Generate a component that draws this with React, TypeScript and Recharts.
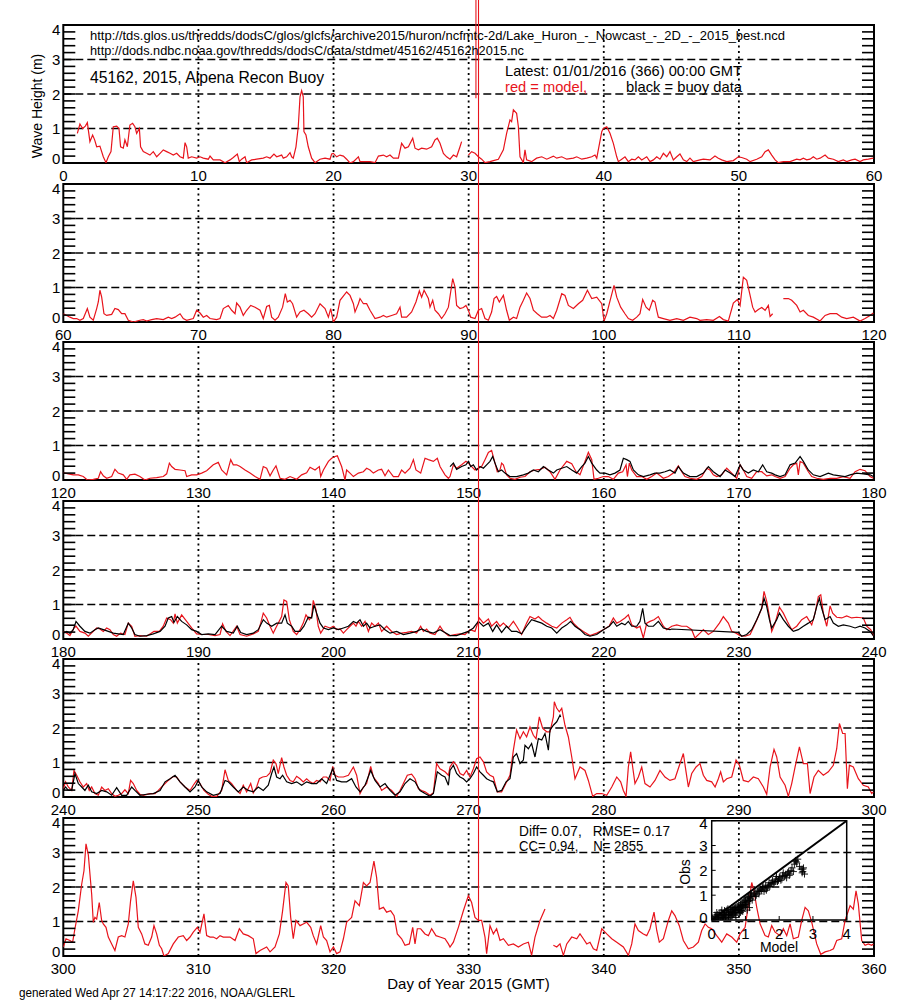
import React from "react";
import {
  ComposedChart,
  Line,
  XAxis,
  YAxis,
  ReferenceLine,
  ReferenceArea,
  ScatterChart,
  Scatter,
} from "recharts";

type Pt = [number, number | null];

// ---------------- model (red) wave height, m ----------------
const model_000_060: Pt[] = [
  [1.04, 0.86], [1.23, 1.13], [1.43, 1.0], [1.63, 1.07], [1.78, 1.17], [1.97, 0.62], [2.17, 0.81], [2.32, 0.67],
  [2.47, 0.47], [2.71, 0.49], [2.96, 0.18], [3.16, 0.01], [3.33, 0.18], [3.53, 0.33], [3.7, 1.05], [3.95, 1.07],
  [4.12, 1.0], [4.24, 0.47], [4.44, 0.43], [4.56, 0.67], [4.74, 0.47], [4.93, 1.1], [5.13, 1.15], [5.3, 1.05],
  [5.43, 0.86], [5.63, 1.0], [5.72, 0.47], [5.92, 0.33], [6.17, 0.28], [6.41, 0.23], [6.66, 0.33], [6.91, 0.18],
  [7.16, 0.28], [7.4, 0.38], [7.65, 0.33], [7.9, 0.28], [8.14, 0.23], [8.39, 0.28], [8.64, 0.18], [8.88, 0.14],
  [9.01, 0.59], [9.13, 0.47], [9.25, 0.14], [9.5, 0.18], [9.87, 0.14], [10.12, 0.18], [10.36, 0.14], [10.73, 0.11],
  [10.86, 0.2], [11.1, 0.09], [11.6, 0.09], [11.97, 0.01], [12.34, 0.09], [12.58, 0.16], [12.88, 0.26], [13.03, 0.04],
  [13.2, 0.11], [13.45, 0.18], [13.57, 0.01], [13.94, 0.09], [14.31, 0.11], [14.8, 0.14], [15.05, 0.18], [15.3, 0.14],
  [15.59, 0.26], [15.79, 0.18], [16.16, 0.23], [16.28, 0.14], [16.53, 0.18], [16.78, 0.3], [16.9, 0.18], [17.02, 0.14],
  [17.22, 0.47], [17.39, 1.05], [17.52, 1.92], [17.64, 2.1], [17.76, 1.92], [17.81, 0.91], [17.96, 0.81], [18.13, 0.47],
  [18.38, 0.14], [18.63, 0.01], [19.0, 0.11], [19.37, 0.14], [19.74, 0.11], [19.86, 0.26], [19.99, 0.28], [20.23, 0.18],
  [20.48, 0.23], [20.73, 0.2], [20.97, 0.11], [21.22, 0.0], [21.47, 0.04], [21.84, 0.18], [21.96, 0.04], [22.33, 0.04],
  [22.7, 0.04], [23.07, 0.01], [23.32, 0.2], [23.69, 0.23], [23.93, 0.18], [24.18, 0.23], [24.43, 0.14], [24.8, 0.14],
  [25.04, 0.57], [25.29, 0.43], [25.54, 0.47], [25.86, 0.72], [26.03, 0.43], [26.28, 0.38], [26.52, 0.43], [26.89, 0.4],
  [27.26, 0.47], [27.51, 0.67], [27.68, 0.72], [27.88, 0.57], [28.13, 0.28], [28.37, 0.18], [28.62, 0.11], [28.87, 0.23],
  [29.11, 0.18], [29.36, 0.47], [29.48, 0.62], [29.6, null], [29.98, 0.23], [30.22, 0.33], [30.47, 0.28], [30.72, 0.18],
  [30.96, 0.11], [31.21, 0.01], [31.58, 0.04], [31.83, 0.07], [32.2, 0.11], [32.57, 0.38], [32.81, 0.86], [33.06, 1.25],
  [33.18, 1.2], [33.31, 1.54], [33.55, 1.44], [33.68, 1.05], [33.8, 0.18], [34.05, 0.01], [34.17, 0.38], [34.29, 0.09],
  [34.66, 0.04], [35.03, 0.14], [35.41, 0.18], [35.78, 0.11], [36.27, 0.2], [36.52, 0.14], [36.89, 0.18], [37.26, 0.11],
  [37.75, 0.14], [38.0, 0.18], [38.37, 0.11], [38.74, 0.14], [39.11, 0.18], [39.35, 0.23], [39.48, 0.14], [39.85, 0.91],
  [39.97, 1.0], [40.22, 1.05], [40.46, 0.86], [40.71, 0.57], [40.96, 0.18], [41.08, 0.04], [41.33, 0.11], [41.57, 0.18],
  [41.82, 0.04], [42.07, 0.11], [42.31, 0.09], [42.56, 0.18], [42.81, 0.09], [43.18, 0.18], [43.42, 0.04], [43.67, 0.09],
  [43.92, 0.18], [44.16, 0.11], [44.41, 0.28], [44.66, 0.18], [44.9, 0.33], [45.15, 0.09], [45.4, 0.18], [45.64, 0.26],
  [45.89, 0.09], [46.14, 0.04], [46.38, 0.14], [46.63, 0.04], [47.12, 0.09], [47.37, 0.11], [47.86, 0.09], [48.23, 0.2],
  [48.48, 0.14], [48.73, 0.09], [49.1, 0.04], [49.59, 0.07], [49.96, 0.18], [50.21, 0.16], [50.58, 0.11], [50.83, 0.04],
  [51.32, 0.11], [51.69, 0.18], [51.94, 0.33], [52.18, 0.38], [52.43, 0.23], [52.68, 0.09], [52.92, 0.01], [53.29, 0.04],
  [53.79, 0.04], [54.28, 0.11], [54.53, 0.09], [54.77, 0.14], [55.02, 0.09], [55.27, 0.11], [55.51, 0.18], [55.76, 0.11],
  [56.01, 0.14], [56.38, 0.23], [56.62, 0.14], [56.99, 0.11], [57.36, 0.04], [57.73, 0.09], [57.98, 0.04], [58.35, 0.09],
  [58.6, 0.11], [58.97, 0.04], [59.21, 0.09], [59.58, 0.11], [59.95, 0.14],
];

const model_060_120: Pt[] = [
  [60.0, 0.24], [60.25, 0.19], [60.49, 0.14], [60.74, 0.1], [60.99, 0.1], [61.23, 0.05], [61.48, 0.1], [61.78, 0.39],
  [61.97, 0.14], [62.22, 0.05], [62.47, 0.39], [62.59, 0.58], [62.71, 0.92], [62.84, 0.72], [63.01, 0.24], [63.21, 0.19],
  [63.58, 0.22], [63.82, 0.39], [64.07, 0.36], [64.32, 0.24], [64.56, 0.24], [64.81, 0.05], [65.18, 0.0], [65.67, 0.05],
  [65.92, 0.07], [66.17, 0.03], [66.54, 0.07], [66.91, 0.1], [67.4, 0.07], [67.77, 0.14], [68.02, 0.1], [68.27, 0.14],
  [68.64, 0.24], [68.88, 0.1], [69.13, 0.05], [69.62, 0.1], [69.87, 0.34], [70.12, 0.26], [70.36, 0.14], [70.61, 0.19],
  [70.86, 0.1], [71.35, 0.07], [71.6, 0.1], [71.84, 0.39], [72.21, 0.48], [72.46, 0.34], [72.71, 0.24], [72.83, 0.55],
  [73.08, 0.43], [73.32, 0.19], [73.57, 0.34], [73.87, 0.48], [74.19, 0.43], [74.56, 0.34], [74.8, 0.1], [75.05, 0.45],
  [75.25, 0.48], [75.42, 0.14], [75.67, 0.05], [75.91, 0.14], [76.23, 0.43], [76.43, 0.82], [76.58, 0.58], [76.78, 0.63],
  [76.97, 0.53], [77.27, 0.14], [77.52, 0.29], [77.81, 0.34], [78.13, 0.24], [78.38, 0.14], [78.63, 0.24], [79.0, 0.53],
  [79.37, 0.39], [79.62, 0.14], [79.79, 0.39], [79.99, 0.0], [80.23, 0.14], [80.48, 0.63], [80.97, 0.87], [81.22, 0.77],
  [81.47, 0.53], [81.59, 0.29], [81.84, 0.53], [81.96, 0.68], [82.21, 0.53], [82.45, 0.53], [82.7, 0.34], [83.07, 0.1],
  [83.44, 0.14], [83.69, 0.19], [83.93, 0.14], [84.3, 0.19], [84.67, 0.24], [84.92, 0.43], [85.04, 0.14], [85.41, 0.14],
  [85.78, 0.29], [86.1, 0.58], [86.35, 0.9], [86.52, 0.72], [86.7, 0.92], [87.02, 0.68], [87.14, 0.43], [87.34, 0.63],
  [87.51, 0.34], [87.76, 0.24], [88.0, 0.1], [88.25, 0.24], [88.5, 0.43], [88.82, 1.26], [88.99, 1.01], [89.11, 0.48],
  [89.36, 0.39], [89.61, 0.42], [89.8, 0.48], [89.98, 0.34], [90.15, 0.14], [90.47, 0.1], [90.72, 0.34], [90.96, 0.39],
  [91.21, 0.1], [91.46, 0.05], [91.7, 0.29], [91.88, 0.68], [92.07, 0.74], [92.27, 0.58], [92.57, 0.77], [92.81, 0.34],
  [93.01, 0.05], [93.31, 0.14], [93.55, 0.1], [93.8, 0.43], [94.05, 0.63], [94.29, 0.84], [94.54, 0.68], [94.79, 0.34],
  [95.08, 0.24], [95.4, 0.14], [95.78, 0.14], [96.02, 0.19], [96.27, 0.1], [96.52, 0.34], [96.89, 0.82], [97.13, 0.77],
  [97.38, 0.48], [97.75, 0.39], [98.12, 0.53], [98.44, 0.63], [98.79, 0.92], [99.11, 0.68], [99.48, 0.72], [99.85, 0.53],
  [100.02, 0.03], [100.22, 0.24], [100.41, 0.53], [100.76, 1.06], [100.96, 0.72], [101.25, 0.43], [101.57, 0.24], [101.82, 0.1],
  [102.14, 0.05], [102.44, 0.14], [102.68, 0.24], [102.88, 0.65], [103.13, 0.43], [103.37, 0.34], [103.62, 0.63], [103.79, 0.58],
  [103.92, 0.34], [104.04, 0.14], [104.41, 0.1], [104.9, 0.05], [105.4, 0.1], [105.89, 0.05], [106.38, 0.14], [106.88, 0.1],
  [107.12, 0.05], [107.62, 0.07], [108.11, 0.05], [108.56, 0.16], [108.85, 0.07], [109.22, 0.03], [109.59, 0.55], [109.89, 0.65],
  [110.09, 0.48], [110.33, 1.3], [110.58, 1.21], [110.83, 0.77], [111.02, 0.43], [111.2, 0.29], [111.44, 0.36], [111.69, 0.42],
  [111.94, 0.34], [112.18, 0.48], [112.31, 0.16], [112.5, 0.24], [112.9, null], [113.29, 0.68], [113.66, 0.68], [113.91, 0.63],
  [114.28, 0.48], [114.53, 0.29], [114.77, 0.34], [115.14, 0.19], [115.51, 0.14], [116.01, 0.03], [116.38, 0.19], [116.75, 0.24],
  [117.24, 0.24], [117.61, 0.14], [117.98, 0.1], [118.47, 0.14], [118.97, 0.03], [119.34, 0.1], [119.71, 0.19], [119.95, 0.26],
];

const model_120_180: Pt[] = [
  [120.0, 0.21], [120.37, 0.18], [120.74, 0.15], [121.11, 0.15], [121.48, 0.1], [121.78, 0.0], [122.22, 0.02], [122.59, 0.05],
  [122.76, 0.24], [122.96, 0.12], [123.21, 0.05], [123.58, 0.1], [123.82, 0.31], [124.07, 0.2], [124.44, 0.15], [124.69, 0.02],
  [124.93, 0.15], [125.3, 0.17], [125.67, 0.1], [126.04, 0.0], [126.41, 0.05], [126.91, 0.07], [127.4, 0.1], [127.65, 0.18],
  [127.85, 0.49], [128.02, 0.39], [128.27, 0.31], [128.64, 0.29], [129.01, 0.27], [129.13, 0.1], [129.5, 0.15], [129.87, 0.15],
  [130.24, 0.2], [130.61, 0.27], [131.1, 0.44], [131.47, 0.51], [131.72, 0.29], [132.09, 0.15], [132.39, 0.59], [132.58, 0.44],
  [132.83, 0.44], [133.08, 0.39], [133.45, 0.29], [133.82, 0.2], [134.19, 0.1], [134.56, 0.02], [134.8, 0.39], [135.05, 0.34],
  [135.3, 0.12], [135.54, 0.29], [135.74, 0.41], [136.04, 0.05], [136.41, 0.02], [136.78, 0.1], [137.27, 0.02], [137.64, 0.15],
  [138.01, 0.21], [138.26, 0.37], [138.63, 0.29], [138.95, 0.39], [139.05, 0.1], [139.25, 0.29], [139.62, 0.54], [139.86, 0.63],
  [140.11, 0.68], [140.28, 0.7], [140.6, 0.39], [140.85, 0.0], [140.97, 0.29], [141.22, 0.2], [141.47, 0.1], [141.84, 0.2],
  [142.21, 0.24], [142.45, 0.34], [142.7, 0.29], [142.95, 0.2], [143.32, 0.29], [143.56, 0.31], [143.81, 0.12], [144.06, 0.29],
  [144.43, 0.1], [144.8, 0.1], [145.04, 0.29], [145.29, 0.2], [145.66, 0.34], [145.91, 0.59], [146.1, 0.29], [146.45, 0.2],
  [146.77, 0.63], [147.02, 0.59], [147.39, 0.54], [147.68, 0.63], [147.88, 0.39], [148.25, 0.15], [148.5, 0.05], [148.62, 0.1],
  [148.87, 0.44], [149.11, 0.34], [149.48, 0.44], [149.8, 0.54], [149.98, 0.49], [150.22, 0.39], [150.47, 0.29], [150.72, 0.34],
  [150.96, 0.39], [151.21, 0.59], [151.46, 0.8], [151.7, 0.86], [151.95, 0.49], [152.12, 0.24], [152.32, 0.29], [152.44, 0.49],
  [152.57, 0.44], [152.81, 0.15], [153.06, 0.05], [153.43, 0.02], [153.8, 0.08], [154.17, 0.1], [154.54, 0.24], [154.91, 0.29],
  [155.28, 0.31], [155.65, 0.37], [156.02, 0.24], [156.39, 0.02], [156.76, 0.29], [157.26, 0.54], [157.63, 0.47], [157.95, 0.24],
  [158.24, 0.15], [158.61, 0.54], [158.86, 0.8], [159.11, 0.59], [159.28, 0.02], [159.6, 0.05], [159.97, 0.1], [160.34, 0.1],
  [160.71, 0.02], [161.08, 0.2], [161.4, 0.24], [161.65, 0.44], [161.75, 0.1], [161.89, 0.49], [162.07, 0.29], [162.44, 0.1],
  [162.81, 0.1], [163.18, 0.02], [163.55, 0.1], [163.92, 0.2], [164.41, 0.05], [164.78, 0.1], [165.15, 0.2], [165.52, 0.41],
  [165.77, 0.24], [166.01, 0.1], [166.38, 0.05], [166.88, 0.02], [167.25, 0.1], [167.62, 0.34], [167.86, 0.29], [168.11, 0.15],
  [168.36, 0.1], [168.73, 0.15], [169.1, 0.34], [169.47, 0.2], [169.84, 0.05], [170.09, 0.44], [170.33, 0.29], [170.58, 0.1],
  [170.95, 0.05], [171.32, 0.24], [171.69, 0.24], [172.06, 0.12], [172.43, 0.15], [172.68, 0.1], [173.05, 0.05], [173.42, 0.1],
  [173.79, 0.34], [174.03, 0.44], [174.28, 0.49], [174.4, 0.15], [174.53, 0.54], [174.77, 0.49], [175.14, 0.24], [175.39, 0.1],
  [175.76, 0.05], [176.25, 0.02], [176.75, 0.05], [177.24, 0.05], [177.73, 0.1], [178.23, 0.05], [178.6, 0.24], [178.97, 0.31],
  [179.34, 0.27], [179.71, 0.1], [179.95, 0.05],
];

const model_180_240: Pt[] = [
  [180.0, 0.22], [180.25, 0.17], [180.49, 0.1], [180.79, 0.32], [180.94, 0.37], [181.23, 0.22], [181.6, 0.17], [181.85, 0.08],
  [182.22, 0.22], [182.47, 0.32], [182.71, 0.29], [182.96, 0.22], [183.21, 0.32], [183.45, 0.27], [183.7, 0.13], [183.95, 0.08],
  [184.24, 0.17], [184.56, 0.13], [184.81, 0.46], [185.06, 0.37], [185.3, 0.08], [185.67, 0.1], [186.17, 0.08], [186.71, 0.22],
  [187.11, 0.22], [187.4, 0.37], [187.65, 0.61], [187.94, 0.56], [188.14, 0.46], [188.27, 0.73], [188.44, 0.46], [188.76, 0.7],
  [189.13, 0.51], [189.5, 0.32], [189.87, 0.15], [190.24, 0.13], [190.73, 0.13], [191.23, 0.1], [191.6, 0.13], [191.79, 0.44],
  [192.04, 0.22], [192.34, 0.1], [192.83, 0.37], [193.08, 0.13], [193.57, 0.08], [194.06, 0.15], [194.43, 0.22], [194.61, 0.46],
  [194.8, 0.75], [195.05, 0.61], [195.3, 0.37], [195.54, 0.17], [195.79, 0.37], [196.16, 0.65], [196.33, 1.13], [196.53, 1.09],
  [196.73, 0.56], [197.02, 0.22], [197.27, 0.13], [197.52, 0.27], [197.76, 0.46], [197.96, 0.7], [198.21, 0.56], [198.38, 0.65],
  [198.5, 1.12], [198.7, 0.85], [198.87, 0.37], [199.05, 0.17], [199.37, 0.37], [199.74, 0.32], [199.99, 0.37], [200.23, 0.27],
  [200.48, 0.29], [200.73, 0.17], [200.97, 0.27], [201.22, 0.37], [201.47, 0.46], [201.66, 0.37], [201.84, 0.51], [202.08, 0.37],
  [202.33, 0.51], [202.58, 0.22], [202.82, 0.46], [203.07, 0.37], [203.32, 0.46], [203.56, 0.22], [203.93, 0.37], [204.3, 0.22],
  [204.67, 0.13], [205.04, 0.17], [205.41, 0.19], [205.78, 0.22], [206.15, 0.17], [206.45, 0.37], [206.65, 0.22], [206.89, 0.29],
  [207.14, 0.17], [207.51, 0.13], [207.88, 0.37], [208.13, 0.22], [208.5, 0.1], [208.62, 0.1], [208.99, 0.13], [209.36, 0.15],
  [209.73, 0.13], [210.1, 0.27], [210.47, 0.22], [210.79, 0.61], [211.09, 0.46], [211.46, 0.58], [211.7, 0.37], [212.07, 0.51],
  [212.32, 0.37], [212.57, 0.46], [212.94, 0.32], [213.31, 0.51], [213.55, 0.37], [213.92, 0.13], [214.29, 0.46], [214.54, 0.65],
  [214.91, 0.58], [215.16, 0.65], [215.41, 0.56], [215.78, 0.46], [216.15, 0.37], [216.52, 0.32], [216.89, 0.46], [217.26, 0.56],
  [217.5, 0.63], [217.75, 0.46], [218.12, 0.32], [218.49, 0.22], [218.98, 0.1], [219.48, 0.17], [219.97, 0.27], [220.41, 0.38],
  [220.71, 0.61], [220.96, 0.46], [221.2, 0.51], [221.57, 0.61], [221.82, 0.7], [222.07, 0.41], [222.44, 0.32], [222.68, 0.37],
  [222.93, 0.03], [223.18, 0.46], [223.42, 0.51], [223.72, 0.56], [224.04, 0.65], [224.41, 0.37], [224.66, 0.27], [225.03, 0.37],
  [225.4, 0.41], [225.77, 0.37], [226.14, 0.37], [226.51, 0.27], [226.75, 0.03], [227.12, 0.17], [227.37, 0.27], [227.74, 0.13],
  [228.11, 0.22], [228.56, 0.46], [228.85, 0.65], [229.22, 0.46], [229.47, 0.22], [229.79, 0.17], [230.09, 0.1], [230.46, 0.08],
  [230.83, 0.13], [231.12, 0.37], [231.44, 0.65], [231.69, 0.89], [231.86, 1.38], [232.06, 1.09], [232.26, 0.65], [232.43, 0.22],
  [232.68, 0.46], [233.0, 0.92], [233.29, 0.75], [233.59, 0.51], [233.91, 0.27], [234.28, 0.37], [234.65, 0.56], [235.02, 0.65],
  [235.39, 0.41], [235.64, 0.75], [235.88, 1.23], [236.06, 1.28], [236.25, 0.75], [236.5, 0.37], [236.75, 0.96], [236.94, 0.75],
  [237.24, 0.63], [237.61, 0.61], [237.98, 0.67], [238.35, 0.61], [238.72, 0.63], [239.21, 0.61], [239.46, 0.37], [239.76, 0.27],
  [239.95, 0.1],
];

const model_240_300: Pt[] = [
  [240.0, 0.24], [240.17, 0.44], [240.37, 0.29], [240.62, 0.19], [240.79, 0.77], [240.99, 0.63], [241.23, 0.44], [241.48, 0.29],
  [241.73, 0.39], [241.92, 0.19], [242.1, 0.29], [242.34, 0.1], [242.59, 0.05], [242.84, 0.29], [243.08, 0.19], [243.33, 0.24],
  [243.58, 0.1], [243.82, 0.02], [244.07, 0.05], [244.32, 0.1], [244.56, 0.21], [244.81, 0.1], [244.98, 0.48], [245.18, 0.39],
  [245.43, 0.19], [245.67, 0.08], [245.92, 0.05], [246.41, 0.1], [246.79, 0.1], [247.03, 0.19], [247.4, 0.34], [247.77, 0.48],
  [248.14, 0.6], [248.39, 0.58], [248.64, 0.44], [249.01, 0.29], [249.38, 0.19], [249.62, 0.34], [249.87, 0.48], [250.12, 0.39],
  [250.41, 0.19], [250.73, 0.08], [250.98, 0.02], [251.35, 0.02], [251.72, 0.19], [251.97, 0.79], [252.21, 0.48], [252.46, 0.39],
  [252.83, 0.19], [253.08, 0.1], [253.32, 0.34], [253.57, 0.15], [253.87, 0.39], [254.06, 0.12], [254.31, 0.29], [254.51, 0.53],
  [254.75, 0.58], [255.05, 0.6], [255.3, 0.7], [255.54, 1.07], [255.74, 0.97], [255.91, 0.68], [256.16, 1.14], [256.33, 0.87],
  [256.53, 0.63], [256.78, 0.48], [257.02, 0.44], [257.27, 0.6], [257.52, 0.53], [257.76, 0.44], [258.01, 0.53], [258.26, 0.44],
  [258.5, 0.39], [258.75, 0.48], [259.0, 0.44], [259.24, 0.58], [259.49, 0.58], [259.74, 0.48], [259.94, 0.89], [260.11, 0.63],
  [260.36, 0.58], [260.73, 0.58], [261.1, 0.63], [261.47, 0.87], [261.71, 0.63], [261.96, 0.1], [262.21, 0.29], [262.45, 0.39],
  [262.75, 0.89], [262.95, 0.58], [263.32, 0.39], [263.56, 0.19], [263.93, 0.29], [264.3, 0.19], [264.67, 0.02], [264.92, 0.19],
  [265.17, 0.39], [265.46, 0.63], [265.78, 0.66], [266.03, 0.53], [266.28, 0.24], [266.52, 0.19], [266.77, 0.15], [267.14, 0.05],
  [267.39, 0.12], [267.63, 0.97], [267.88, 0.82], [268.25, 0.73], [268.5, 0.63], [268.62, 0.87], [268.87, 1.02], [269.11, 0.92],
  [269.36, 0.68], [269.61, 0.63], [269.85, 0.77], [270.1, 0.58], [270.35, 0.82], [270.59, 1.11], [270.84, 1.16], [271.09, 1.02],
  [271.33, 0.73], [271.58, 0.63], [271.83, 0.58], [272.12, 0.15], [272.44, 0.15], [272.69, 0.34], [273.06, 0.63], [273.31, 1.36],
  [273.55, 1.94], [273.8, 1.69], [274.05, 1.89], [274.29, 1.74], [274.54, 2.03], [274.79, 1.79], [274.99, 1.69], [275.23, 2.32],
  [275.48, 1.99], [275.78, 1.89], [276.02, 1.89], [276.27, 2.32], [276.34, 2.76], [276.52, 2.57], [276.71, 2.47], [276.89, 2.57],
  [277.13, 2.08], [277.38, 1.74], [277.63, 1.16], [277.87, 0.53], [278.24, 0.87], [278.61, 0.77], [278.86, 0.48], [279.18, 0.02],
  [279.48, 0.1], [279.85, 0.1], [280.22, 0.05], [280.59, 0.29], [280.96, 0.58], [281.25, 0.44], [281.45, 0.19], [281.65, 0.02],
  [281.82, 0.87], [281.99, 1.31], [282.14, 0.87], [282.31, 0.39], [282.56, 0.58], [282.81, 0.87], [283.05, 0.39], [283.42, 0.29],
  [283.79, 0.48], [284.16, 0.77], [284.53, 0.58], [284.9, 0.48], [285.27, 0.53], [285.6, 0.92], [285.89, 1.26], [286.09, 0.73],
  [286.26, 0.29], [286.51, 0.68], [286.83, 0.87], [287.12, 0.97], [287.37, 0.63], [287.62, 0.48], [287.99, 0.44], [288.24, 0.29],
  [288.48, 0.53], [288.65, 0.73], [288.85, 0.44], [289.1, 0.53], [289.47, 0.58], [289.79, 1.07], [290.04, 0.92], [290.33, 0.48],
  [290.7, 0.44], [291.07, 0.58], [291.44, 0.53], [291.81, 0.29], [292.06, 0.08], [292.31, 0.87], [292.6, 1.38], [292.8, 1.16],
  [293.05, 0.58], [293.42, 0.34], [293.66, 0.02], [293.91, 0.39], [294.16, 0.87], [294.48, 1.45], [294.77, 0.97], [295.07, 0.97],
  [295.27, 0.1], [295.56, 0.58], [295.88, 0.77], [296.25, 0.63], [296.62, 0.73], [296.99, 0.92], [297.24, 1.4], [297.44, 2.13],
  [297.68, 1.84], [297.86, 1.84], [298.03, 0.24], [298.18, 0.92], [298.47, 0.87], [298.84, 0.53], [299.21, 0.34], [299.58, 0.29],
  [299.83, 0.1], [299.95, 0.15],
];

const model_300_360: Pt[] = [
  [300.0, 0.26], [300.2, 0.5], [300.49, 0.45], [300.69, 0.4], [300.86, 0.79], [301.11, 1.31], [301.36, 2.08], [301.53, 2.47],
  [301.68, 3.25], [301.85, 2.94], [302.1, 1.79], [302.22, 0.98], [302.34, 1.12], [302.47, 1.07], [302.66, 1.55], [302.84, 1.03],
  [302.96, 0.93], [303.16, 0.83], [303.33, 0.55], [303.58, 0.35], [303.82, 0.16], [304.07, 0.55], [304.32, 0.59], [304.56, 0.55],
  [304.81, 0.93], [304.98, 1.6], [305.18, 2.18], [305.38, 1.7], [305.55, 0.83], [305.8, 0.64], [306.04, 0.35], [306.29, 0.31],
  [306.54, 0.55], [306.71, 0.88], [306.91, 0.64], [307.11, 0.31], [307.28, 0.21], [307.45, 0.0], [307.77, 0.07], [308.14, 0.35],
  [308.51, 0.55], [308.88, 0.59], [309.13, 0.45], [309.38, 0.55], [309.62, 0.69], [309.92, 0.83], [310.12, 0.69], [310.41, 1.22],
  [310.61, 0.59], [310.86, 0.55], [311.1, 0.55], [311.35, 0.5], [311.6, 0.59], [311.84, 0.55], [312.34, 0.55], [312.71, 0.45],
  [313.03, 0.79], [313.32, 0.64], [313.69, 0.59], [314.06, 0.5], [314.26, 0.07], [314.56, 0.16], [315.05, 0.26], [315.3, 0.12],
  [315.67, 0.26], [315.99, 0.64], [316.23, 1.31], [316.48, 2.13], [316.65, 2.03], [316.83, 1.12], [317.02, 0.5], [317.22, 1.03],
  [317.52, 0.88], [317.76, 0.93], [318.01, 0.98], [318.31, 0.83], [318.5, 0.59], [318.75, 0.35], [319.05, 0.88], [319.25, 0.55],
  [319.49, 0.45], [319.74, 0.12], [319.99, 0.26], [320.23, 0.07], [320.48, 0.12], [320.73, 0.5], [320.97, 0.98], [321.34, 1.12],
  [321.59, 1.6], [321.91, 1.46], [322.21, 2.13], [322.45, 2.03], [322.7, 2.13], [322.99, 2.75], [323.19, 2.27], [323.39, 1.36],
  [323.69, 1.41], [323.93, 1.27], [324.23, 1.31], [324.48, 1.17], [324.72, 0.64], [325.04, 0.5], [325.29, 0.31], [325.61, 0.35],
  [325.86, 0.83], [326.03, 0.35], [326.2, 0.79], [326.45, 0.79], [326.77, 0.64], [327.02, 0.59], [327.26, 0.79], [327.58, 0.59],
  [327.88, 0.55], [328.25, 0.5], [328.5, 0.35], [328.62, 0.26], [328.87, 0.4], [329.24, 0.83], [329.61, 1.31], [329.98, 1.75],
  [330.22, 1.55], [330.47, 1.12], [330.72, 1.03], [330.96, 1.03], [331.21, 0.55], [331.33, 0.07], [331.58, 0.88], [331.83, 0.64],
  [332.07, 0.79], [332.32, 0.45], [332.57, 0.5], [332.94, 0.31], [333.31, 0.35], [333.68, 0.26], [334.05, 0.35], [334.42, 0.4],
  [334.66, 0.02], [334.91, 0.55], [335.28, 1.03], [335.65, 1.36], [336.0, null], [336.27, 0.31], [336.52, 0.26], [336.76, 0.35],
  [337.01, 0.02], [337.26, 0.35], [337.63, 0.55], [338.0, 0.5], [338.24, 0.64], [338.49, 0.5], [338.74, 0.35], [338.98, 0.4],
  [339.23, 0.21], [339.48, 0.16], [339.85, 0.79], [340.22, 0.64], [340.59, 0.5], [340.96, 0.4], [341.45, 0.26], [341.82, 0.02],
  [342.07, 0.35], [342.31, 0.93], [342.56, 0.74], [342.93, 0.64], [343.18, 0.59], [343.42, 0.79], [343.72, 1.27], [343.92, 0.74],
  [344.11, 0.4], [344.41, 0.5], [344.78, 1.03], [345.03, 1.31], [345.27, 1.17], [345.59, 0.88], [345.89, 0.45], [346.26, 0.21],
  [346.63, 0.26], [347.0, 0.4], [347.25, 0.74], [347.5, 0.93], [347.74, 0.83], [347.99, 0.79], [348.36, 0.59], [348.73, 0.4],
  [349.1, 0.64], [349.47, 0.55], [349.84, 0.4], [350.09, 0.64], [350.46, 0.83], [350.7, 1.46], [350.95, 2.13], [351.12, 1.89],
  [351.32, 1.41], [351.57, 0.93], [351.94, 0.59], [352.18, 0.55], [352.43, 0.88], [352.68, 0.69], [353.05, 0.59], [353.29, 0.79],
  [353.54, 0.59], [353.79, 0.93], [354.03, 0.5], [354.4, 0.55], [354.65, 1.03], [354.9, 1.41], [355.14, 1.31], [355.39, 0.98],
  [355.76, 0.35], [356.06, 0.05], [356.38, 0.12], [356.75, 0.16], [357.0, 0.21], [357.24, 0.45], [357.61, 0.5], [357.86, 1.03],
  [358.23, 1.46], [358.47, 1.36], [358.67, 1.89], [358.84, 1.51], [359.09, 0.45], [359.34, 0.31], [359.58, 0.35], [359.83, 0.31],
  [359.95, 0.35],
];

// ---------------- buoy (black) wave height, m ----------------
const buoy_120_180: Pt[] = [
  [148.62, 0.39], [148.87, 0.49], [149.11, 0.31], [149.48, 0.39], [149.8, 0.44], [149.98, 0.54], [150.15, 0.39], [150.35, 0.44],
  [150.59, 0.29], [150.84, 0.39], [151.09, 0.34], [151.33, 0.44], [151.58, 0.54], [151.78, 0.68], [151.95, 0.49], [152.2, 0.24],
  [152.44, 0.29], [152.69, 0.2], [153.06, 0.1], [153.55, 0.1], [154.05, 0.15], [154.42, 0.2], [154.79, 0.29], [155.16, 0.24],
  [155.53, 0.39], [155.9, 0.29], [156.27, 0.2], [156.52, 0.29], [156.89, 0.34], [157.26, 0.39], [157.63, 0.29], [158.0, 0.2],
  [158.37, 0.39], [158.61, 0.49], [158.86, 0.68], [159.11, 0.49], [159.48, 0.29], [159.72, 0.2], [160.09, 0.2], [160.46, 0.15],
  [160.83, 0.2], [161.2, 0.29], [161.45, 0.63], [161.7, 0.59], [161.94, 0.54], [162.19, 0.29], [162.56, 0.15], [162.93, 0.1],
  [163.42, 0.15], [163.79, 0.2], [164.16, 0.2], [164.53, 0.24], [164.9, 0.29], [165.27, 0.2], [165.52, 0.39], [165.89, 0.2],
  [166.38, 0.1], [166.88, 0.1], [167.37, 0.2], [167.74, 0.39], [168.11, 0.24], [168.61, 0.1], [168.98, 0.29], [169.35, 0.2],
  [169.72, 0.1], [170.09, 0.44], [170.33, 0.29], [170.7, 0.2], [171.07, 0.29], [171.44, 0.24], [171.76, 0.44], [172.06, 0.24],
  [172.43, 0.2], [172.68, 0.15], [173.05, 0.1], [173.42, 0.15], [173.79, 0.44], [174.16, 0.49], [174.53, 0.68], [174.77, 0.54],
  [175.14, 0.29], [175.51, 0.15], [176.01, 0.1], [176.62, 0.2], [176.99, 0.15], [177.49, 0.12], [177.86, 0.1], [178.23, 0.15],
  [178.72, 0.2], [179.21, 0.18], [179.71, 0.15], [179.95, 0.1],
];

const buoy_180_240: Pt[] = [
  [180.0, 0.17], [180.25, 0.22], [180.49, 0.17], [180.74, 0.27], [180.94, 0.51], [181.23, 0.37], [181.6, 0.22], [181.97, 0.17],
  [182.34, 0.27], [182.59, 0.32], [182.96, 0.27], [183.33, 0.22], [183.7, 0.17], [184.07, 0.15], [184.44, 0.13], [184.81, 0.46],
  [185.06, 0.32], [185.3, 0.13], [185.67, 0.08], [186.17, 0.1], [186.66, 0.15], [187.16, 0.22], [187.53, 0.37], [187.77, 0.61],
  [188.02, 0.65], [188.19, 0.48], [188.44, 0.65], [188.76, 0.51], [189.13, 0.41], [189.5, 0.27], [189.87, 0.22], [190.24, 0.13],
  [190.73, 0.15], [191.23, 0.13], [191.72, 0.37], [192.09, 0.22], [192.58, 0.17], [192.88, 0.37], [193.13, 0.19], [193.57, 0.13],
  [194.06, 0.17], [194.43, 0.27], [194.8, 0.56], [195.05, 0.46], [195.42, 0.37], [195.79, 0.46], [196.16, 0.46], [196.41, 0.7],
  [196.58, 0.46], [196.9, 0.37], [197.15, 0.22], [197.52, 0.22], [197.81, 0.37], [198.13, 0.63], [198.38, 0.61], [198.55, 0.99],
  [198.75, 0.75], [199.0, 0.46], [199.25, 0.32], [199.62, 0.27], [199.99, 0.32], [200.36, 0.27], [200.73, 0.32], [201.1, 0.37],
  [201.47, 0.51], [201.71, 0.46], [201.96, 0.56], [202.21, 0.37], [202.45, 0.46], [202.7, 0.32], [203.07, 0.37], [203.44, 0.41],
  [203.81, 0.27], [204.18, 0.17], [204.67, 0.22], [205.17, 0.13], [205.66, 0.17], [206.15, 0.22], [206.52, 0.29], [206.89, 0.22],
  [207.39, 0.17], [207.88, 0.27], [208.5, 0.13], [208.62, 0.1], [209.11, 0.1], [209.61, 0.17], [209.98, 0.22], [210.35, 0.32],
  [210.72, 0.51], [211.09, 0.37], [211.46, 0.46], [211.78, 0.22], [212.07, 0.41], [212.44, 0.19], [212.81, 0.37], [213.18, 0.22],
  [213.55, 0.22], [213.92, 0.15], [214.29, 0.37], [214.66, 0.56], [215.03, 0.51], [215.41, 0.46], [215.78, 0.37], [216.15, 0.32],
  [216.52, 0.17], [216.89, 0.32], [217.26, 0.41], [217.55, 0.51], [217.87, 0.37], [218.24, 0.27], [218.61, 0.13], [218.98, 0.08],
  [219.48, 0.13], [219.97, 0.27], [220.41, 0.37], [220.71, 0.51], [220.96, 0.37], [221.33, 0.46], [221.57, 0.41], [221.82, 0.51],
  [222.07, 0.37], [222.44, 0.37], [222.68, 0.51], [222.88, 0.89], [223.05, 0.46], [223.3, 0.37], [223.67, 0.37], [224.04, 0.51],
  [224.41, 0.32], [224.9, 0.27], [225.03, 0.29], [229.96, 0.19], [230.21, 0.08], [230.58, 0.13], [230.95, 0.27], [231.32, 0.56],
  [231.69, 0.89], [231.86, 1.18], [232.06, 0.94], [232.26, 0.56], [232.43, 0.32], [232.8, 0.56], [233.0, 0.75], [233.29, 0.56],
  [233.66, 0.37], [234.03, 0.22], [234.4, 0.27], [234.77, 0.37], [235.14, 0.46], [235.51, 0.56], [235.76, 0.94], [235.96, 1.18],
  [236.13, 0.89], [236.38, 0.56], [236.75, 0.65], [236.99, 0.46], [237.36, 0.37], [237.73, 0.41], [238.23, 0.37], [238.6, 0.32],
  [238.97, 0.37], [239.34, 0.32], [239.71, 0.22], [239.95, 0.1],
];

const buoy_240_300: Pt[] = [
  [240.0, 0.19], [240.17, 0.29], [240.37, 0.19], [240.62, 0.19], [240.86, 0.68], [241.11, 0.39], [241.36, 0.29], [241.6, 0.19],
  [241.85, 0.34], [242.1, 0.15], [242.47, 0.1], [242.84, 0.19], [243.21, 0.15], [243.58, 0.05], [243.95, 0.27], [244.32, 0.05],
  [244.69, 0.05], [245.06, 0.29], [245.3, 0.19], [245.67, 0.05], [246.17, 0.08], [246.66, 0.1], [247.16, 0.19], [247.53, 0.44],
  [247.9, 0.53], [248.27, 0.63], [248.64, 0.44], [249.01, 0.29], [249.38, 0.15], [249.75, 0.29], [249.99, 0.48], [250.24, 0.29],
  [250.61, 0.15], [251.1, 0.05], [251.6, 0.1], [251.97, 0.48], [252.21, 0.44], [252.58, 0.29], [252.95, 0.15], [253.32, 0.29],
  [253.69, 0.19], [254.06, 0.15], [254.43, 0.29], [254.8, 0.19], [255.17, 0.34], [255.42, 0.68], [255.59, 0.87], [255.79, 0.58],
  [256.04, 0.53], [256.23, 0.63], [256.53, 0.44], [256.9, 0.39], [257.27, 0.44], [257.64, 0.34], [258.01, 0.44], [258.38, 0.39],
  [258.75, 0.39], [259.12, 0.53], [259.49, 0.39], [259.94, 0.82], [260.23, 0.48], [260.6, 0.44], [260.97, 0.44], [261.34, 0.53],
  [261.66, 0.29], [261.96, 0.15], [262.33, 0.34], [262.75, 0.77], [263.07, 0.48], [263.44, 0.29], [263.81, 0.39], [264.18, 0.19],
  [264.55, 0.05], [264.92, 0.15], [265.29, 0.39], [265.66, 0.53], [266.03, 0.44], [266.4, 0.19], [266.77, 0.1], [267.14, 0.02],
  [267.39, 0.1], [267.68, 0.73], [268.0, 0.63], [268.25, 0.58], [268.5, 0.34], [268.62, 0.77], [268.87, 0.92], [269.11, 0.68],
  [269.36, 0.58], [269.61, 0.53], [269.85, 0.44], [270.1, 0.53], [270.35, 0.68], [270.59, 0.87], [270.84, 0.73], [271.09, 0.63],
  [271.33, 0.53], [271.58, 0.48], [271.83, 0.44], [272.12, 0.15], [272.44, 0.19], [272.77, 0.44], [273.06, 0.53], [273.31, 1.16],
  [273.55, 1.26], [273.8, 0.97], [274.05, 1.07], [274.17, 1.5], [274.42, 1.4], [274.66, 1.55], [274.91, 1.16], [275.16, 1.69],
  [275.41, 1.65], [275.65, 1.84], [275.9, 1.36], [276.02, 1.94], [276.27, 2.08], [276.52, 2.18], [276.76, 2.37], [276.81, 2.32],
];

// ---------------- layout helpers / ticks ----------------
const panelStarts = [0, 60, 120, 180, 240, 300];
const xTickOffsets = [0, 10, 20, 30, 40, 50, 60];
const gridXOffsets = [10, 20, 30, 40, 50];
const gridYValues = [1, 2, 3];
const yTicks = [0, 0.2, 0.4, 0.6, 0.8, 1, 1.2, 1.4, 1.6, 1.8, 2, 2.2, 2.4, 2.6, 2.8, 3, 3.2, 3.4, 3.6, 3.8, 4];
const insetTicks = [0, 1, 2, 3, 4];
const latestMarkDay = 330.73;

// inset scatter: [model, obs]
const scatterPairs: [number, number][] = [
  [0.05, 0.02], [0.1, 0.08], [0.12, 0.15], [0.15, 0.05], [0.2, 0.12], [0.22, 0.25], [0.25, 0.1], [0.3, 0.18],
  [0.3, 0.3], [0.35, 0.08], [0.38, 0.22], [0.4, 0.15], [0.42, 0.35], [0.45, 0.25], [0.5, 0.18], [0.5, 0.3],
  [0.55, 0.4], [0.58, 0.25], [0.6, 0.35], [0.62, 0.2], [0.65, 0.45], [0.68, 0.3], [0.7, 0.5], [0.72, 0.38],
  [0.75, 0.55], [0.78, 0.42], [0.8, 0.6], [0.82, 0.48], [0.85, 0.65], [0.88, 0.52], [0.9, 0.7], [0.92, 0.58],
  [0.95, 0.75], [0.98, 0.62], [1.0, 0.8], [1.02, 0.7], [1.05, 0.88], [1.08, 0.75], [1.1, 0.95], [1.12, 0.5],
  [1.15, 0.85], [1.18, 1.0], [1.2, 0.8], [1.25, 1.05], [1.3, 0.95], [1.35, 1.15], [1.4, 1.05], [1.45, 1.25],
  [1.5, 1.3], [1.55, 1.15], [1.6, 1.4], [1.65, 1.3], [1.7, 1.5], [1.75, 1.45], [1.8, 1.6], [1.85, 1.5],
  [1.9, 1.65], [1.95, 1.55], [2.0, 1.7], [2.05, 1.6], [2.1, 1.8], [2.15, 1.75], [2.2, 1.85], [2.25, 1.9],
  [2.3, 1.8], [2.35, 2.0], [2.45, 2.25], [2.5, 2.35], [2.55, 2.45], [2.6, 2.15], [2.65, 2.05], [2.7, 1.95],
  [2.72, 2.1], [2.75, 1.85], [0.6, 0.5], [0.7, 0.2], [0.4, 0.05], [0.2, 0.0], [0.55, 0.1], [0.85, 0.3],
  [0.9, 0.45], [1.0, 0.55], [1.05, 0.4], [0.15, 0.3], [0.3, 0.4], [0.48, 0.45],
  [0.02, 0.05], [0.08, 0.0], [0.1, 0.2], [0.18, 0.08], [0.18, 0.22], [0.25, 0.3], [0.28, 0.05], [0.32, 0.12],
  [0.35, 0.28], [0.38, 0.38], [0.42, 0.1], [0.45, 0.4], [0.5, 0.05], [0.52, 0.22], [0.55, 0.32], [0.6, 0.15],
  [0.62, 0.42], [0.65, 0.25], [0.68, 0.48], [0.7, 0.35], [0.72, 0.1], [0.75, 0.3], [0.78, 0.5], [0.8, 0.4],
  [0.82, 0.25], [0.85, 0.55], [0.88, 0.38], [0.9, 0.6], [0.92, 0.35], [0.95, 0.5], [0.98, 0.8], [1.02, 0.6],
  [1.05, 0.65], [1.08, 0.9], [1.12, 0.78], [1.15, 1.05], [1.22, 0.95], [1.28, 1.1], [1.32, 1.0], [1.38, 1.2],
  [1.42, 1.15], [1.48, 1.2], [1.52, 1.35], [1.58, 1.25], [1.62, 1.2], [1.68, 1.4], [1.72, 1.35], [1.78, 1.5],
  [1.82, 1.45], [1.88, 1.55], [1.92, 1.75], [1.98, 1.6], [2.02, 1.75], [2.08, 1.65], [2.12, 1.9], [2.18, 1.8],
  [2.22, 1.7], [2.28, 1.95], [2.32, 1.85], [2.38, 2.1], [2.42, 1.95], [2.48, 2.4], [2.52, 2.3], [2.68, 1.9],
  [2.7, 2.05],
];

const FONT = '"Liberation Sans", Arial, Helvetica, sans-serif';
const PANEL_TOP0 = 25;
const PANEL_STEP = 158.5;
const PLOT_H = 138;
const MT = 10;
const XH = 26;
const PL = 63.3;
const PR = 26;
const CH = MT + PLOT_H + XH;

const isMajor = (v: number) => Math.abs(v - Math.round(v)) < 1e-6;

function LeftTick(props: any) {
  const { x, y, payload } = props;
  const v = payload.value as number;
  const dy = v >= 4 ? 4 : v <= 0 ? -5 : 0;
  return (
    <g>
      <line x1={x} x2={x + 12} y1={y} y2={y} stroke="#000" strokeWidth={1.6} />
      {isMajor(v) && (
        <text x={x - 3} y={y + dy} textAnchor="end" dominantBaseline="central" fontSize={15} fontFamily={FONT} fill="#000">
          {Math.round(v)}
        </text>
      )}
    </g>
  );
}

function RightTick(props: any) {
  const { x, y } = props;
  return <line x1={x - 12} x2={x} y1={y} y2={y} stroke="#000" strokeWidth={1.6} />;
}

function BottomTick(props: any) {
  const { x, y, payload } = props;
  return (
    <text x={x} y={y + 12} textAnchor="middle" dominantBaseline="central" fontSize={15} fontFamily={FONT} fill="#000">
      {payload.value}
    </text>
  );
}

function Panel(props: { index: number; model: Pt[]; buoy?: Pt[]; extras?: React.ReactNode }) {
  const { index, model, buoy, extras } = props;
  const start = panelStarts[index];
  const top = PANEL_TOP0 + PANEL_STEP * index - MT;
  const modelData = model.map(([d, v]) => ({ d, v }));
  const buoyData = buoy ? buoy.map(([d, v]) => ({ d, v })) : null;
  return (
    <div style={{ position: "absolute", left: 0, top, width: 900, height: CH }}>
      <ComposedChart width={900} height={CH} margin={{ top: MT, right: 0, bottom: 0, left: 0 }}>
        <XAxis
          xAxisId="x"
          type="number"
          dataKey="d"
          domain={[start, start + 60]}
          ticks={xTickOffsets.map((o) => start + o)}
          interval={0}
          allowDataOverflow
          axisLine={false}
          tickLine={false}
          tickSize={0}
          tickMargin={0}
          height={XH}
          tick={BottomTick}
        />
        <YAxis
          yAxisId="l"
          type="number"
          domain={[0, 4]}
          ticks={yTicks}
          interval={0}
          allowDataOverflow
          width={PL}
          axisLine={false}
          tickLine={false}
          tickSize={0}
          tickMargin={0}
          tick={LeftTick}
        />
        <YAxis
          yAxisId="r"
          orientation="right"
          type="number"
          domain={[0, 4]}
          ticks={yTicks}
          interval={0}
          allowDataOverflow
          width={PR}
          axisLine={false}
          tickLine={false}
          tickSize={0}
          tickMargin={0}
          tick={RightTick}
        />
        {gridYValues.map((v) => (
          <ReferenceLine key={"h" + v} xAxisId="x" yAxisId="l" y={v} stroke="#000" strokeWidth={1.5} strokeDasharray="8 4" />
        ))}
        {gridXOffsets.map((o) => (
          <ReferenceLine key={"v" + o} xAxisId="x" yAxisId="l" x={start + o} stroke="#000" strokeWidth={1.8} strokeDasharray="2 3.5" />
        ))}
        <Line
          xAxisId="x"
          yAxisId="l"
          data={modelData}
          dataKey="v"
          stroke="#e8141c"
          strokeWidth={1.2}
          dot={false}
          activeDot={false}
          isAnimationActive={false}
          connectNulls={false}
        />
        {buoyData && (
          <Line
            xAxisId="x"
            yAxisId="r"
            data={buoyData}
            dataKey="v"
            stroke="#000"
            strokeWidth={1.2}
            dot={false}
            activeDot={false}
            isAnimationActive={false}
            connectNulls={false}
          />
        )}
        <ReferenceArea
          xAxisId="x"
          yAxisId="l"
          x1={start}
          x2={start + 60}
          y1={0}
          y2={4}
          fill="none"
          fillOpacity={0}
          stroke="#000"
          strokeWidth={2}
          ifOverflow="visible"
        />
        {extras}
      </ComposedChart>
    </div>
  );
}

function InsetBottomTick(props: any) {
  const { x, y, payload } = props;
  return (
    <g>
      <line x1={x} x2={x} y1={y} y2={y - 4} stroke="#000" strokeWidth={1} />
      <text x={x} y={y + 13} textAnchor="middle" dominantBaseline="central" fontSize={15} fontFamily={FONT} fill="#000">
        {payload.value}
      </text>
    </g>
  );
}
function InsetTopTick(props: any) {
  const { x, y } = props;
  return <line x1={x} x2={x} y1={y} y2={y + 4} stroke="#000" strokeWidth={1} />;
}
function InsetLeftTick(props: any) {
  const { x, y, payload } = props;
  const v = payload.value as number;
  const dy = v >= 4 ? 3 : v <= 0 ? -3 : 0;
  return (
    <g>
      <line x1={x} x2={x + 4} y1={y} y2={y} stroke="#000" strokeWidth={1} />
      <text x={x - 4} y={y + dy} textAnchor="end" dominantBaseline="central" fontSize={15} fontFamily={FONT} fill="#000">
        {v}
      </text>
    </g>
  );
}
function InsetRightTick(props: any) {
  const { x, y } = props;
  return <line x1={x - 4} x2={x} y1={y} y2={y} stroke="#000" strokeWidth={1} />;
}
function PlusShape(props: any) {
  const { cx, cy } = props;
  if (cx == null || cy == null) return <g />;
  return <path d={`M${cx - 3.5},${cy}H${cx + 3.5}M${cx},${cy - 3.5}V${cy + 3.5}`} stroke="#000" strokeWidth={0.9} fill="none" />;
}

function Inset() {
  const data = scatterPairs.map(([m, o]) => ({ m, o }));
  return (
    <div style={{ position: "absolute", left: 680, top: 810, width: 176, height: 150 }}>
      <ScatterChart width={176} height={150} margin={{ top: 10.7, right: 9.3, bottom: 0, left: 0 }}>
        <XAxis xAxisId="b" type="number" dataKey="m" domain={[0, 4]} ticks={insetTicks} interval={0} allowDataOverflow
          height={40} axisLine={false} tickLine={false} tickSize={0} tickMargin={0} tick={InsetBottomTick} />
        <XAxis xAxisId="t" orientation="top" type="number" dataKey="m" domain={[0, 4]} ticks={insetTicks} interval={0} allowDataOverflow
          height={0} axisLine={false} tickLine={false} tickSize={0} tickMargin={0} tick={InsetTopTick} />
        <YAxis yAxisId="l" type="number" dataKey="o" domain={[0, 4]} ticks={insetTicks} interval={0} allowDataOverflow
          width={31.7} axisLine={false} tickLine={false} tickSize={0} tickMargin={0} tick={InsetLeftTick} />
        <YAxis yAxisId="r" orientation="right" type="number" dataKey="o" domain={[0, 4]} ticks={insetTicks} interval={0} allowDataOverflow
          width={0} axisLine={false} tickLine={false} tickSize={0} tickMargin={0} tick={InsetRightTick} />
        <ReferenceLine xAxisId="b" yAxisId="l" segment={[{ x: 0, y: 0 }, { x: 4, y: 4 }]} stroke="#000" strokeWidth={2} />
        <Scatter xAxisId="b" yAxisId="l" data={data} dataKey="o" shape={PlusShape} isAnimationActive={false} />
        <Scatter xAxisId="t" yAxisId="r" data={[]} dataKey="o" isAnimationActive={false} />
        <ReferenceArea xAxisId="b" yAxisId="l" x1={0} x2={4} y1={0} y2={4} fill="none" fillOpacity={0} stroke="#000" strokeWidth={1.5} />
      </ScatterChart>
    </div>
  );
}

export default function App() {
  const textStyle = { fontFamily: FONT, fill: "#000" } as const;
  return (
    <div style={{ position: "absolute", left: 0, top: 0, width: 900, height: 1001, background: "#fff", overflow: "hidden" }}>
      <style>{`.recharts-surface{overflow:visible}`}</style>
      <Panel
        index={0}
        model={model_000_060}
        extras={
          <ReferenceLine xAxisId="x" yAxisId="l" segment={[{ x: 30.54, y: 1.88 }, { x: 30.54, y: 5 }]}
            stroke="#e8141c" strokeWidth={1.1} ifOverflow="visible" />
        }
      />
      <Panel index={1} model={model_060_120} />
      <Panel index={2} model={model_120_180} buoy={buoy_120_180} />
      <Panel index={3} model={model_180_240} buoy={buoy_180_240} />
      <Panel index={4} model={model_240_300} buoy={buoy_240_300} />
      <Panel
        index={5}
        model={model_300_360}
        extras={
          <ReferenceLine xAxisId="x" yAxisId="l" segment={[{ x: latestMarkDay, y: 1.03 }, { x: latestMarkDay, y: 28 }]}
            stroke="#e8141c" strokeWidth={1.1} ifOverflow="visible" />
        }
      />
      <Inset />
      <svg width={900} height={1001} style={{ position: "absolute", left: 0, top: 0, pointerEvents: "none" }}>
        <text x={90} y={35} fontSize={13} dominantBaseline="central" textLength={695} lengthAdjust="spacingAndGlyphs" {...textStyle}>
          http://tds.glos.us/thredds/dodsC/glos/glcfs/archive2015/huron/ncfmtc-2d/Lake_Huron_-_Nowcast_-_2D_-_2015_best.ncd
        </text>
        <text x={90} y={50.7} fontSize={13} dominantBaseline="central" textLength={434} lengthAdjust="spacingAndGlyphs" {...textStyle}>
          http://dods.ndbc.noaa.gov/thredds/dodsC/data/stdmet/45162/45162h2015.nc
        </text>
        <text x={90} y={77.3} fontSize={17} dominantBaseline="central" textLength={234} lengthAdjust="spacingAndGlyphs" {...textStyle}>
          45162, 2015, Alpena Recon Buoy
        </text>
        <text x={505} y={70} fontSize={15} dominantBaseline="central" textLength={237} lengthAdjust="spacingAndGlyphs" {...textStyle}>
          Latest: 01/01/2016 (366) 00:00 GMT
        </text>
        <text x={505} y={86.7} fontSize={15} dominantBaseline="central" textLength={82} lengthAdjust="spacingAndGlyphs" fontFamily={FONT} fill="#e8141c">
          red = model,
        </text>
        <text x={626} y={86.7} fontSize={15} dominantBaseline="central" textLength={116} lengthAdjust="spacingAndGlyphs" {...textStyle}>
          black = buoy data
        </text>
        <text x={0} y={0} fontSize={14} textAnchor="middle" dominantBaseline="central" transform="translate(37,106) rotate(-90)" {...textStyle}>
          Wave Height (m)
        </text>
        <text x={519} y={830.7} fontSize={15} dominantBaseline="central" textLength={62.7} lengthAdjust="spacingAndGlyphs" {...textStyle}>
          Diff= 0.07,
        </text>
        <text x={592.7} y={830.7} fontSize={15} dominantBaseline="central" textLength={77.3} lengthAdjust="spacingAndGlyphs" {...textStyle}>
          RMSE= 0.17
        </text>
        <text x={519} y={845} fontSize={15} dominantBaseline="central" textLength={59.3} lengthAdjust="spacingAndGlyphs" {...textStyle}>
          CC= 0.94,
        </text>
        <text x={593.3} y={845} fontSize={15} dominantBaseline="central" textLength={50} lengthAdjust="spacingAndGlyphs" {...textStyle}>
          N= 2855
        </text>
        <text x={779} y={947} fontSize={14} textAnchor="middle" dominantBaseline="central" {...textStyle}>
          Model
        </text>
        <text x={0} y={0} fontSize={14} textAnchor="middle" dominantBaseline="central" transform="translate(685,872) rotate(-90)" {...textStyle}>
          Obs
        </text>
        <text x={468.5} y={983} fontSize={15} textAnchor="middle" dominantBaseline="central" {...textStyle}>
          Day of Year 2015 (GMT)
        </text>
        <text x={19} y={992.7} fontSize={13} dominantBaseline="central" textLength={276} lengthAdjust="spacingAndGlyphs" {...textStyle}>
          generated Wed Apr 27 14:17:22 2016, NOAA/GLERL
        </text>
      </svg>
    </div>
  );
}
